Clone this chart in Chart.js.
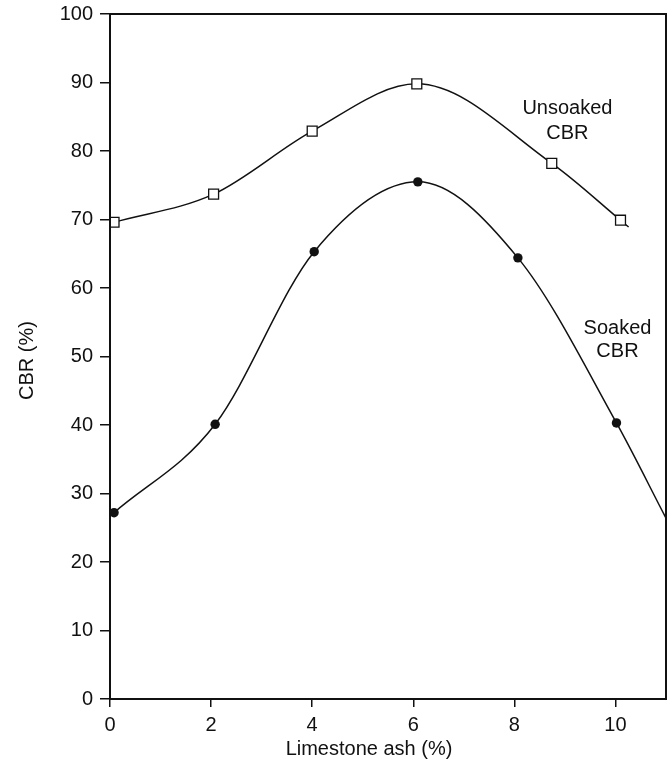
<!DOCTYPE html>
<html>
<head>
<meta charset="utf-8">
<script src="https://cdn.jsdelivr.net/npm/chart.js@4"></script>
<style>
  html, body { margin: 0; padding: 0; background: #fff; }
  #wrap { width: 668px; height: 762px; }
</style>
</head>
<body>
<div id="wrap"><canvas id="cbrChart" width="668" height="762"></canvas></div>
<script>
  // Limestone ash content (%) and CBR (%)
  var unsoakedX = [0.08, 2.05, 4.0, 6.07, 8.74, 10.1, 10.26];
  var unsoakedY = [69.6, 73.7, 82.9, 89.8, 78.2, 69.9, 68.9];
  var soakedX = [0.08, 2.08, 4.04, 6.09, 8.07, 10.02, 11.0];
  var soakedY = [27.2, 40.1, 65.3, 75.5, 64.4, 40.3, 26.4];

  // last point of each curve is only the tail of the line, no marker
  var unsoakedMarks = [1, 1, 1, 1, 1, 1, 0];
  var soakedMarks = [1, 1, 1, 1, 1, 1, 0];

  var xTitle = 'Limestone ash (%)';
  var yTitle = 'CBR (%)';

  var FONT = '"Liberation Sans", Arial, Helvetica, sans-serif';

  function toPoints(xs, ys) {
    return xs.map((x, i) => ({ x: x, y: ys[i] }));
  }

  // Frame, axis titles and curve labels
  var decorations = {
    id: 'decorations',
    afterDraw(chart) {
      const ctx = chart.ctx;
      const a = chart.chartArea;
      const xs = chart.scales.x;
      const ys = chart.scales.y;
      ctx.save();
      ctx.strokeStyle = '#111';
      ctx.lineWidth = 2;
      ctx.strokeRect(a.left, a.top, a.right - a.left, a.bottom - a.top);

      ctx.fillStyle = '#111';
      ctx.font = '20px ' + FONT;
      ctx.textAlign = 'center';
      ctx.textBaseline = 'alphabetic';

      // curve labels, placed in data units
      ctx.fillText('Unsoaked', xs.getPixelForValue(9.05), ys.getPixelForValue(85.4));
      ctx.fillText('CBR', xs.getPixelForValue(9.05), ys.getPixelForValue(81.8));
      ctx.fillText('Soaked', xs.getPixelForValue(10.04), ys.getPixelForValue(53.3));
      ctx.fillText('CBR', xs.getPixelForValue(10.04), ys.getPixelForValue(49.9));

      // axis titles
      ctx.textBaseline = 'middle';
      ctx.fillText(xTitle, (a.left + a.right) / 2 - 19, 749);
      ctx.translate(27, (a.top + a.bottom) / 2 + 4);
      ctx.rotate(-Math.PI / 2);
      ctx.fillText(yTitle, 0, 0);
      ctx.restore();
    }
  };

  var data = {
    datasets: [
      {
        label: 'Unsoaked CBR',
        data: toPoints(unsoakedX, unsoakedY),
        borderColor: '#111',
        borderWidth: 1.5,
        cubicInterpolationMode: 'monotone',
        pointStyle: 'rect',
        pointRadius: unsoakedMarks.map(m => m ? 7 : 0),
        pointBackgroundColor: '#fff',
        pointBorderColor: '#111',
        pointBorderWidth: 1.3
      },
      {
        label: 'Soaked CBR',
        data: toPoints(soakedX, soakedY),
        borderColor: '#111',
        borderWidth: 1.5,
        cubicInterpolationMode: 'monotone',
        pointStyle: 'circle',
        pointRadius: soakedMarks.map(m => m ? 4.7 : 0),
        pointBackgroundColor: '#111',
        pointBorderColor: '#111',
        pointBorderWidth: 0
      }
    ]
  };

  var options = {
    responsive: false,
    animation: false,
    layout: { autoPadding: false, padding: { top: 14, right: 2, left: 0, bottom: 0 } },
    plugins: {
      legend: { display: false },
      tooltip: { enabled: false }
    },
    scales: {
      x: {
        type: 'linear',
        min: 0,
        max: 11,
        afterFit(scale) {
          scale.height = 63;
          scale.paddingLeft = 0;
          scale.paddingRight = 0;
        },
        grid: { drawOnChartArea: false, color: '#111', lineWidth: 1.5, tickLength: 8 },
        border: { display: false },
        ticks: {
          stepSize: 2,
          includeBounds: false,
          color: '#111',
          padding: 6,
          maxRotation: 0,
          font: { family: FONT, size: 20 }
        }
      },
      y: {
        min: 0,
        max: 100,
        afterFit(scale) {
          scale.width = 110;
          scale.paddingTop = 0;
          scale.paddingBottom = 0;
        },
        grid: { drawOnChartArea: false, color: '#111', lineWidth: 1.5, tickLength: 10 },
        border: { display: false },
        ticks: {
          stepSize: 10,
          color: '#111',
          padding: 7,
          font: { family: FONT, size: 20 }
        }
      }
    }
  };

  var ctx = document.getElementById('cbrChart').getContext('2d');
  var cbrChart = new Chart(ctx, {
    type: 'line',
    data,
    options,
    plugins: [decorations]
  });
</script>
</body>
</html>
